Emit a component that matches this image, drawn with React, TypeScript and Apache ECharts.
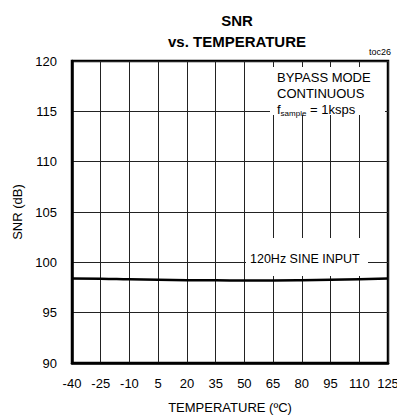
import React, { useEffect, useRef } from "react";
import * as echarts from "echarts";

const temps = [-40, -25, -10, 5, 20, 35, 50, 65, 80, 95, 110, 125];
const snr = [98.4, 98.38, 98.32, 98.27, 98.23, 98.21, 98.2, 98.2, 98.22, 98.27, 98.33, 98.4];
const yTicks = [90, 95, 100, 105, 110, 115, 120];

const FONT = "Liberation Sans, Arial, sans-serif";

export default function App() {
  const ref = useRef<HTMLDivElement>(null);
  useEffect(() => {
    if (!ref.current) return;
    const chart = echarts.init(ref.current, null, { renderer: "svg" });
    chart.setOption({
      animation: false,
      textStyle: { fontFamily: FONT },
      graphic: [
        {
          type: "text",
          z: 20,
          style: {
            text: "SNR",
            x: 237,
            y: 20,
            align: "center",
            verticalAlign: "middle",
            fontSize: 15,
            fontWeight: "bold",
            fill: "#000",
            fontFamily: FONT,
          },
        },
        {
          type: "text",
          z: 20,
          style: {
            text: "vs. TEMPERATURE",
            x: 237,
            y: 41,
            align: "center",
            verticalAlign: "middle",
            fontSize: 15,
            fontWeight: "bold",
            fill: "#000",
            fontFamily: FONT,
          },
        },
        {
          type: "text",
          left: 369,
          top: 47,
          z: 20,
          style: { text: "toc26", fontSize: 9, fill: "#000", fontFamily: FONT },
        },
        {
          type: "rect",
          z: 10,
          shape: { x: 270, y: 67, width: 115, height: 48 },
          style: { fill: "#fff" },
        },
        {
          type: "text",
          z: 11,
          left: 277,
          top: 69,
          style: {
            text: "BYPASS MODE\nCONTINUOUS\nf{sub|sample} = 1ksps",
            fontSize: 13,
            lineHeight: 16,
            fill: "#000",
            fontFamily: FONT,
            rich: {
              sub: { fontSize: 8, verticalAlign: "bottom", padding: [7, 0, 0, 0], fontFamily: FONT },
            },
          },
        },
        {
          type: "rect",
          z: 10,
          shape: { x: 246, y: 238, width: 122, height: 38 },
          style: { fill: "#fff" },
        },
        {
          type: "text",
          z: 11,
          left: 250,
          top: 252,
          style: { text: "120Hz SINE INPUT", fontSize: 12.5, fill: "#000", fontFamily: FONT },
        },
      ],
      grid: {
        left: 72,
        right: 17,
        top: 61,
        bottom: 53,
        show: true,
        borderColor: "#000",
        borderWidth: 2.5,
        backgroundColor: "transparent",
      },
      xAxis: {
        type: "value",
        min: -40,
        max: 125,
        interval: 15,
        name: "TEMPERATURE (ºC)",
        nameLocation: "middle",
        nameGap: 38,
        nameTextStyle: { fontSize: 13, color: "#000", fontFamily: FONT },
        axisLine: { show: true, onZero: false, lineStyle: { color: "#000", width: 2.5 } },
        axisTick: { show: false },
        axisLabel: { fontSize: 13, color: "#000", margin: 14, fontFamily: FONT },
        splitLine: { show: true, lineStyle: { color: "#222", width: 1 } },
      },
      yAxis: {
        type: "value",
        min: yTicks[0],
        max: yTicks[yTicks.length - 1],
        interval: 5,
        name: "SNR (dB)",
        nameLocation: "middle",
        nameGap: 38,
        nameTextStyle: { fontSize: 13, color: "#000", fontFamily: FONT },
        axisLine: { show: true, onZero: false, lineStyle: { color: "#000", width: 2.5 } },
        axisTick: { show: false },
        axisLabel: { fontSize: 13, color: "#000", margin: 15, fontFamily: FONT },
        splitLine: { show: true, lineStyle: { color: "#222", width: 1 } },
      },
      series: [
        {
          type: "line",
          data: temps.map((t, i) => [t, snr[i]]),
          showSymbol: false,
          smooth: true,
          lineStyle: { color: "#000", width: 2.5 },
          z: 5,
        },
      ],
    });
    return () => chart.dispose();
  }, []);
  return <div ref={ref} style={{ width: 405, height: 419, marginLeft: -8, marginTop: -8 }} />;
}
